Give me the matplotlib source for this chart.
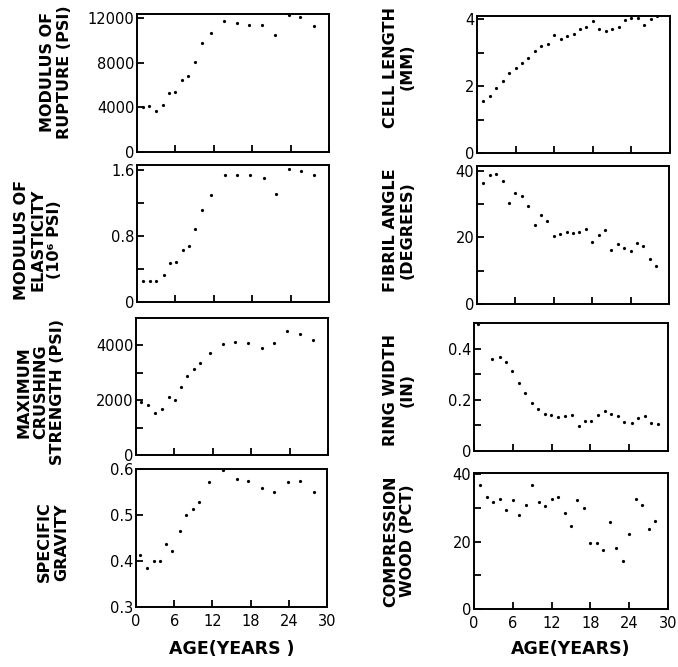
import matplotlib
matplotlib.use("Agg")
import matplotlib.pyplot as plt
import numpy as np

W, H = 678, 667

# ---------------- data ----------------
mor_age = [0.9, 1.95, 2.9, 4.0, 5.0, 6.0, 7.1, 8.0, 9.1, 10.1, 11.6, 13.6, 15.7, 17.5, 19.6, 21.6, 23.7, 25.5, 27.6]
mor_val = [4000, 4120, 3640, 4240, 5330, 5390, 6430, 6790, 8090, 9780, 10670, 11730, 11590, 11440, 11440, 10550, 12300, 12120, 11350]

moe_age = [1.0, 2.0, 3.0, 4.15, 5.1, 6.1, 7.15, 8.05, 9.0, 10.1, 11.6, 13.7, 15.6, 17.6, 19.8, 21.7, 23.7, 25.6, 27.7]
moe_val = [0.26, 0.26, 0.26, 0.33, 0.47, 0.49, 0.63, 0.68, 0.88, 1.11, 1.30, 1.54, 1.54, 1.54, 1.50, 1.31, 1.61, 1.59, 1.54]

mcs_age = [0.8, 1.8, 3.0, 4.0, 5.1, 6.05, 7.0, 8.0, 9.0, 10.0, 11.5, 13.6, 15.5, 17.5, 19.7, 21.6, 23.6, 25.6, 27.6]
mcs_val = [1940, 1810, 1540, 1670, 2100, 2020, 2490, 2900, 3130, 3370, 3720, 4050, 4110, 4080, 3920, 4080, 4520, 4400, 4210]

sg_age = [0.65, 1.7, 2.75, 3.75, 4.75, 5.6, 6.9, 7.8, 9.0, 9.95, 11.5, 13.7, 15.8, 17.6, 19.8, 21.7, 23.9, 25.8, 27.9]
sg_val = [0.412, 0.385, 0.399, 0.399, 0.436, 0.421, 0.466, 0.501, 0.512, 0.529, 0.571, 0.598, 0.579, 0.574, 0.559, 0.551, 0.571, 0.575, 0.550]

cell_age = list(range(1, 29))
cell_val = [1.55, 1.72, 1.96, 2.16, 2.38, 2.53, 2.70, 2.83, 3.05, 3.19, 3.27, 3.52, 3.42, 3.51,
            3.55, 3.72, 3.78, 3.94, 3.72, 3.64, 3.71, 3.76, 3.97, 4.03, 4.03, 3.83, 4.01, 4.09]

fib_age = list(range(1, 29))
fib_val = [36.3, 38.8, 39.1, 36.9, 30.5, 33.3, 32.6, 29.4, 23.8, 26.9, 24.9, 20.4, 21.1, 21.8,
           21.3, 21.7, 22.7, 18.7, 20.8, 22.4, 16.3, 17.9, 16.9, 16.0, 18.4, 17.5, 13.6, 11.4]

ring_age = [0.6, 2.8, 3.95, 4.9, 5.95, 7.0, 7.85, 8.97, 9.9, 11.0, 11.95, 13.0, 14.1, 15.1, 16.2, 17.1,
            18.15, 19.1, 20.3, 21.2, 22.3, 23.2, 24.4, 25.4, 26.4, 27.3, 28.5]
ring_val = [0.497, 0.361, 0.369, 0.349, 0.312, 0.264, 0.225, 0.186, 0.164, 0.146, 0.141, 0.134, 0.135, 0.141,
            0.098, 0.116, 0.117, 0.140, 0.155, 0.146, 0.135, 0.112, 0.108, 0.128, 0.135, 0.111, 0.104]

cw_age = list(range(1, 29))
cw_val = [36.8, 33.3, 31.7, 32.6, 29.2, 32.4, 28.0, 30.9, 36.8, 31.7, 30.5, 32.5, 33.2, 28.4,
          24.7, 32.4, 30.0, 19.5, 19.6, 17.5, 25.8, 18.2, 14.3, 22.3, 32.5, 30.7, 23.7, 26.2]

x_ticks = [0, 6, 12, 18, 24, 30]
x_label = "AGE(YEARS)"

# --------------- layout ----------------
plt.rcParams['font.family'] = ['DejaVu Sans']
fig = plt.figure(figsize=(W / 100, H / 100), dpi=100)


def rect(l, t, r, b):
    return [l / W, 1 - b / H, (r - l) / W, (b - t) / H]


panels = [
    dict(x=mor_age, y=mor_val, box=(137, 14, 329, 152), ylim=(0, 12400),
         ticks=[0, 4000, 8000, 12000], labels={0: "0", 4000: "4000", 8000: "8000", 12000: "12000"},
         ylabel="MODULUS OF\nRUPTURE (PSI)", lpos=(56, 72), bottom=False),
    dict(x=moe_age, y=moe_val, box=(137, 165, 329, 302), ylim=(0, 1.66),
         ticks=[0, 0.4, 0.8, 1.2, 1.6], labels={0: "0", 0.8: "0.8", 1.6: "1.6"},
         ylabel="MODULUS OF\nELASTICITY\n(10\u2076 PSI)", lpos=(38, 240), bottom=False),
    dict(x=mcs_age, y=mcs_val, box=(136, 318, 328, 455), ylim=(0, 5000),
         ticks=[0, 1000, 2000, 3000, 4000], labels={0: "0", 2000: "2000", 4000: "4000"},
         ylabel="MAXIMUM\nCRUSHING\nSTRENGTH (PSI)", lpos=(41, 392), bottom=False),
    dict(x=sg_age, y=sg_val, box=(136, 469, 327, 607), ylim=(0.3, 0.6),
         ticks=[0.3, 0.4, 0.5, 0.6], labels={0.3: "0.3", 0.4: "0.4", 0.5: "0.5", 0.6: "0.6"},
         ylabel="SPECIFIC\nGRAVITY", lpos=(53, 542), bottom=True, xl="AGE(YEARS )"),
    dict(x=cell_age, y=cell_val, box=(477, 16, 670, 153), ylim=(0, 4.1),
         ticks=[0, 1, 2, 3, 4], labels={0: "0", 2: "2", 4: "4"},
         ylabel="CELL LENGTH\n(MM)", lpos=(399, 67), bottom=False),
    dict(x=fib_age, y=fib_val, box=(477, 166, 669, 304), ylim=(0, 41.5),
         ticks=[0, 10, 20, 30, 40], labels={0: "0", 20: "20", 40: "40"},
         ylabel="FIBRIL ANGLE\n(DEGREES)", lpos=(399, 230), bottom=False),
    dict(x=ring_age, y=ring_val, box=(474, 323, 668, 451), ylim=(0, 0.5),
         ticks=[0, 0.1, 0.2, 0.3, 0.4], labels={0: "0", 0.2: "0.2", 0.4: "0.4"},
         ylabel="RING WIDTH\n(IN)", lpos=(399, 390), bottom=False),
    dict(x=cw_age, y=cw_val, box=(474, 473, 668, 609), ylim=(0, 40.3),
         ticks=[0, 10, 20, 30, 40], labels={0: "0", 20: "20", 40: "40"},
         ylabel="COMPRESSION\nWOOD (PCT)", lpos=(399, 541), bottom=True, xl=x_label),
]

for p in panels:
    ax = fig.add_axes(rect(*p['box']))
    ax.plot(p['x'], p['y'], linestyle='none', marker='o', markersize=2.3,
            markeredgewidth=0, color='black', clip_on=False)
    ax.set_xlim(0, 30)
    ax.set_ylim(*p['ylim'])
    ax.set_xticks(x_ticks)
    ax.set_yticks(p['ticks'])
    ax.set_yticklabels([p['labels'].get(t, "") for t in p['ticks']])
    for s in ax.spines.values():
        s.set_linewidth(1.4)
        s.set_color('black')
    ax.tick_params(axis='both', direction='in', length=5, width=1.3, color='black',
                   labelsize=10.5, pad=3)
    ax.tick_params(axis='y', pad=2)
    if p['bottom']:
        ax.set_xticklabels([str(t) for t in x_ticks])
        ax.tick_params(axis='x', pad=5)
        cx = (p['box'][0] + p['box'][2]) / 2
        fig.text(cx / W, 1 - 649 / H, p['xl'], ha='center', va='center',
                 fontsize=12.5, fontweight='bold')
    else:
        ax.set_xticklabels([])
    fig.text(p['lpos'][0] / W, 1 - p['lpos'][1] / H, p['ylabel'], rotation=90,
             ha='center', va='center', multialignment='center',
             fontsize=11.5, fontweight='bold', linespacing=1.15)

fig.savefig("out.png", dpi=100)
